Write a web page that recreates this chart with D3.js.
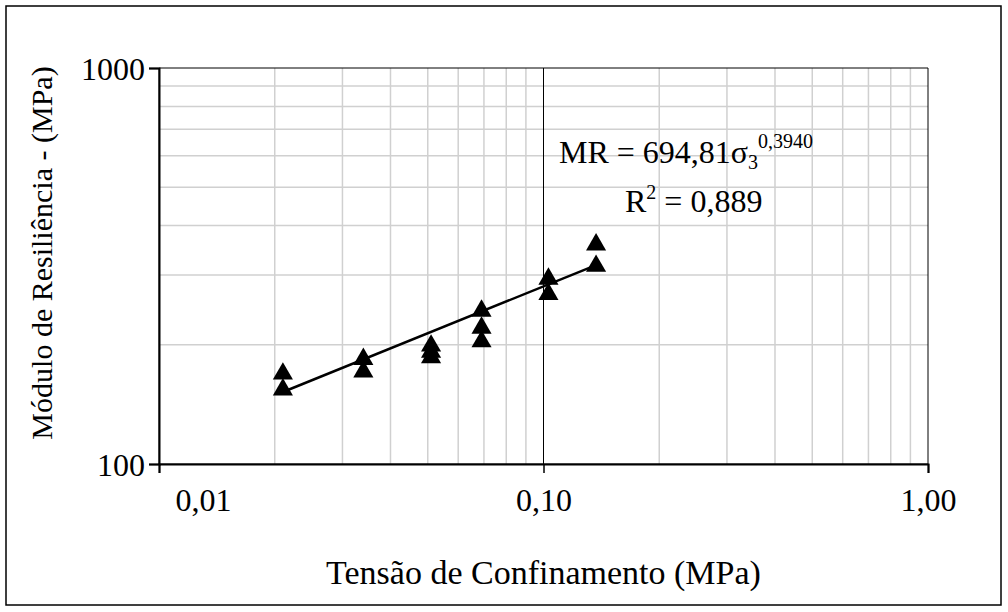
<!DOCTYPE html>
<html><head><meta charset="utf-8">
<script src="https://cdn.jsdelivr.net/npm/d3@7"></script>
<style>body{margin:0;background:#fff}svg{display:block}</style>
</head><body>
<script>
// Data
const sigma3 = [0.021,0.021, 0.034,0.034, 0.051,0.051,0.051, 0.069,0.069,0.069, 0.103,0.103, 0.137,0.137];
const mr     = [170,155, 185,172, 200,193,187, 245,222,205, 295,270, 360,318];
const trendX = [0.021, 0.137];
const trendY = [152, 318];
const xTicks = [0.01, 0.1, 1];
const xTickLabels = ["0,01","0,10","1,00"];
const yTicks = [100, 1000];
const yTickLabels = ["100","1000"];
const xMinor = [0.02,0.03,0.04,0.05,0.06,0.07,0.08,0.09,0.2,0.3,0.4,0.5,0.6,0.7,0.8,0.9];
const yMinor = [200,300,400,500,600,700,800,900];
const xTitle = "Tensão de Confinamento (MPa)";
const yTitle = "Módulo de Resiliência - (MPa)";

const W=1008,H=612;
const L=159,R=928,T=68,B=464;
const FF="Liberation Serif";
const svg=d3.select("body").append("svg").attr("width",W).attr("height",H);
svg.append("rect").attr("x",6).attr("y",6).attr("width",995).attr("height",599)
  .attr("fill","#fff").attr("stroke","#000").attr("stroke-width",1.5);

const x=d3.scaleLog().domain([0.01,1]).range([L,R]);
const y=d3.scaleLog().domain([100,1000]).range([B,T]);

const g=svg.append("g");
g.selectAll(".vx").data(xMinor).join("line").attr("x1",d=>x(d)).attr("x2",d=>x(d))
  .attr("y1",T).attr("y2",B).attr("stroke","#d0d0d0").attr("stroke-width",1.5);
g.selectAll(".hy").data(yMinor).join("line").attr("y1",d=>y(d)).attr("y2",d=>y(d))
  .attr("x1",L).attr("x2",R).attr("stroke","#d0d0d0").attr("stroke-width",1.5);
g.selectAll(".mx").data(xTicks).join("line").attr("x1",d=>x(d)).attr("x2",d=>x(d))
  .attr("y1",T).attr("y2",B).attr("stroke","#000").attr("stroke-width",1);
g.selectAll(".my").data(yTicks).join("line").attr("y1",d=>y(d)).attr("y2",d=>y(d))
  .attr("x1",L).attr("x2",R).attr("stroke","#000").attr("stroke-width",1);

const xa=svg.append("g").attr("transform",`translate(0,${B})`)
  .call(d3.axisBottom(x).tickValues(xTicks).tickSize(9).tickFormat((d,i)=>xTickLabels[i]));
const ya=svg.append("g").attr("transform",`translate(${L},0)`)
  .call(d3.axisLeft(y).tickValues(yTicks).tickSize(10).tickFormat((d,i)=>yTickLabels[i]));
[xa,ya].forEach(a=>{
  a.select(".domain").attr("stroke","#000").attr("stroke-width",2);
  a.selectAll(".tick line").attr("stroke","#000").attr("stroke-width",1.5);
  a.selectAll("text").style("font-family",FF).style("font-size","32px").attr("fill","#000");
});
xa.selectAll("text").attr("dy",0).attr("y",47).attr("x",(d,i)=>i===0?44:0);
ya.selectAll("text").attr("x",-14).attr("dy","0.35em");

svg.append("path").datum(trendX.map((d,i)=>[d,trendY[i]]))
  .attr("d",d3.line().x(d=>x(d[0])).y(d=>y(d[1])))
  .attr("stroke","#000").attr("stroke-width",2.5).attr("fill","none");

const tri=d3.symbol().type(d3.symbolTriangle).size(175);
svg.selectAll(".pt").data(sigma3.map((d,i)=>[d,mr[i]])).join("path")
  .attr("d",tri).attr("transform",d=>`translate(${x(d[0])},${y(d[1])+1})`).attr("fill","#000");

svg.append("text").attr("x",(L+R)/2).attr("y",584).attr("text-anchor","middle")
  .style("font-family",FF).style("font-size","34px").text(xTitle);
svg.append("text").attr("transform",`translate(52,253) rotate(-90)`).attr("text-anchor","middle")
  .style("font-family",FF).style("font-size","30px").text(yTitle);

const eq=svg.append("text").attr("x",559).attr("y",163).style("font-family",FF).style("font-size","32px");
eq.append("tspan").text("MR = 694,81σ");
eq.append("tspan").style("font-size","20px").attr("dy",6).text("3");
eq.append("tspan").style("font-size","20px").attr("dy",-21).text("0,3940");
const r2=svg.append("text").attr("x",625).attr("y",212).style("font-family",FF).style("font-size","32px");
r2.append("tspan").text("R");
r2.append("tspan").style("font-size","20px").attr("dy",-13).text("2");
r2.append("tspan").attr("dy",13).text(" = 0,889");
</script>
</body></html>
